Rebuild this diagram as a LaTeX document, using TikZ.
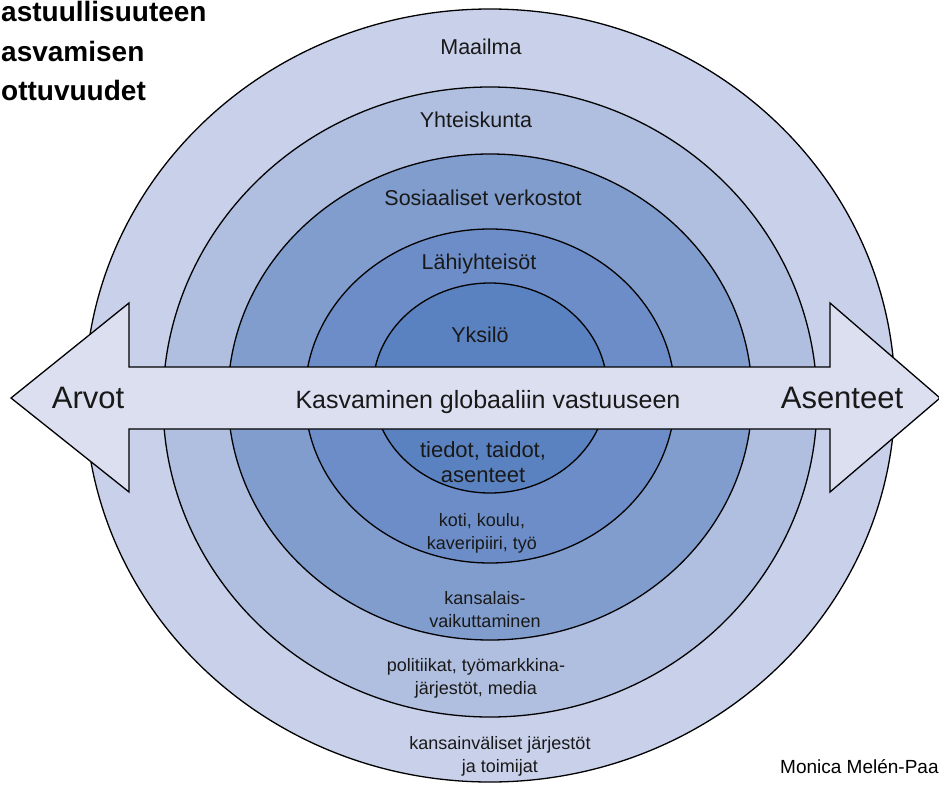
\documentclass[tikz,border=0pt]{standalone}
\usepackage{fontspec}
\setmainfont{Liberation Sans}
\definecolor{ringA}{RGB}{201,209,234}
\definecolor{ringB}{RGB}{176,190,224}
\definecolor{ringC}{RGB}{128,157,206}
\definecolor{ringD}{RGB}{108,141,199}
\definecolor{ringE}{RGB}{90,130,192}
\definecolor{arrowfill}{RGB}{219,223,240}
\begin{document}
\begin{tikzpicture}[x=1pt,y=-1pt,
  ring/.style={draw=black,line width=1.3pt},
  lbl/.style={inner sep=0pt,align=center,text=black!90},
  ringlbl/.style={lbl,font=\fontsize{21.5}{25}\selectfont},
  sublbl/.style={lbl,font=\fontsize{18}{23}\selectfont},
  biglbl/.style={lbl,font=\fontsize{31}{36}\selectfont},
  titlelbl/.style={inner sep=0pt,anchor=base west,font=\bfseries\fontsize{28}{32}\selectfont}]
\useasboundingbox (0,0) rectangle (939,784);

% concentric rings, outermost first
\fill[ringA] (490,395.5) ellipse [x radius=405, y radius=386.5];
\draw[ring] (490,395.5) ellipse [x radius=405, y radius=386.5];
\filldraw[ring,fill=ringB] (490,402) ellipse [x radius=327, y radius=315];
\filldraw[ring,fill=ringC] (490,397) ellipse [x radius=262, y radius=243];
\filldraw[ring,fill=ringD] (490,396) ellipse [x radius=185, y radius=167];
\filldraw[ring,fill=ringE] (490,388) ellipse [x radius=117, y radius=105];

% double-headed arrow across the rings
\filldraw[ring,fill=arrowfill,line join=miter]
  (11,398) -- (129,303) -- (129,367) -- (830,367) -- (830,303) -- (940,398)
  -- (830,492) -- (830,429) -- (129,429) -- (129,492) -- cycle;

% ring names
\node[ringlbl] (maailma) at (481,47) {Maailma};
\node[ringlbl] (yhteis) at (476,120) {Yhteiskunta};
\node[ringlbl] (sosiaal) at (483,198) {Sosiaaliset verkostot};
\node[ringlbl] (lahi) at (479,264) {Lähiyhteisöt};
\node[ringlbl] (yksilo) at (480,335) {Yksilö};

% arrow texts
\node[biglbl] (arvot) at (88,398) {Arvot};
\node[biglbl] (asenteet) at (842,398) {Asenteet};
\node[lbl,font=\fontsize{25}{30}\selectfont] (kasv) at (488,402) {Kasvaminen globaaliin vastuuseen};

% lower ring descriptions
\node[lbl,font=\fontsize{22}{25}\selectfont] (tiedot) at (483,462) {tiedot, taidot,\\asenteet};
\node[sublbl] (koti) at (482,533) {koti, koulu,\\kaveripiiri, työ};
\node[sublbl] (kansal) at (485,610) {kansalais-\\vaikuttaminen};
\node[sublbl] (polit) at (476,678) {politiikat, työmarkkina-\\järjestöt, media};
\node[sublbl] (kansain) at (500,756) {kansainväliset järjestöt\\ja toimijat};

% heading in the upper left corner
\node[titlelbl] (t1) at (1,22) {astuullisuuteen};
\node[titlelbl] (t2) at (1,61) {asvamisen};
\node[titlelbl] (t3) at (1,100) {ottuvuudet};

% source credit
\node[inner sep=0pt,anchor=base west,font=\fontsize{19}{21}\selectfont] (credit) at (780,773) {Monica Melén-Paa};
\end{tikzpicture}
\end{document}
